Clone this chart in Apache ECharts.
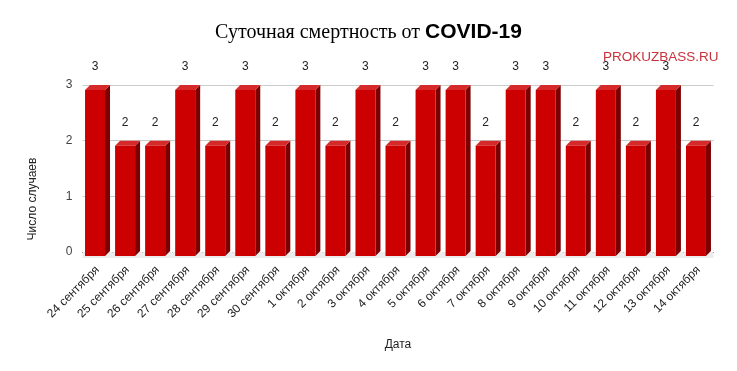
<!DOCTYPE html>
<html><head><meta charset="utf-8">
<script src="https://cdn.jsdelivr.net/npm/echarts@6/dist/echarts.min.js"></script>
<style>html,body{margin:0;padding:0;background:#fff}#c{width:737px;height:371px}</style>
</head><body><div id="c"></div>
<script>
const categories = ["24 сентября","25 сентября","26 сентября","27 сентября","28 сентября","29 сентября","30 сентября","1 октября","2 октября","3 октября","4 октября","5 октября","6 октября","7 октября","8 октября","9 октября","10 октября","11 октября","12 октября","13 октября","14 октября"];
const deaths = [3,2,2,3,2,3,2,3,2,3,2,3,3,2,3,3,2,3,2,3,2];
const yTicks = [0,1,2,3];

const chart = echarts.init(document.getElementById('c'), null, {renderer:'canvas'});

function renderItem(params, api){
  const i = api.value(0), v = api.value(1);
  const top = api.coord([i, v]);
  const base = api.coord([i, 0]);
  const bw = api.size([1,0])[0];
  const fw = bw*0.665, dx = 5, dy = 5;
  const xl = top[0] - (fw+dx)/2, xr = xl + fw;
  const yt = top[1] + dy, yb = base[1] + dy - 1;
  return {type:'group', children:[
    {type:'rect', shape:{x:top[0]-bw/2, y:base[1], width:bw, height:6}, style:{fill:'#ececec'}, z2:0},
    {type:'polygon', shape:{points:[[xr,yt],[xr+dx,yt-dy],[xr+dx,yb-dy],[xr,yb]]}, style:{fill:'#7d0000'}, z2:1},
    {type:'polygon', shape:{points:[[xl,yt],[xr,yt],[xr+dx,yt-dy],[xl+dx,yt-dy]]}, style:{fill:'#d62a2a'}, z2:1},
    {type:'rect', shape:{x:xl, y:yt, width:fw, height:yb-yt}, style:{fill:'#cc0000'}, z2:2},
    {type:'text', x:xl+fw/2, y:top[1]-18, style:{text:String(v), fill:'#222', font:'12px Arial, "Liberation Sans", sans-serif', align:'center', verticalAlign:'middle'}, z2:3}
  ]};
}

chart.setOption({
  animation:false,
  backgroundColor:'#fff',
  title:{
    left:'center', top:17,
    text:'{a|Суточная смертность от }{b|COVID-19}',
    textStyle:{fontWeight:'normal', rich:{
      a:{fontFamily:'"Liberation Serif","Times New Roman",serif', fontSize:20, fontWeight:'normal', color:'#000'},
      b:{fontFamily:'"Liberation Sans",Arial,sans-serif', fontSize:21, fontWeight:'bold', color:'#000'}
    }}
  },
  grid:{left:82.5, right:23.5, top:85, bottom:119},
  xAxis:{
    type:'category', data:categories, boundaryGap:true,
    axisTick:{show:false},
    axisLine:{show:true, lineStyle:{color:'#333', width:1}},
    axisLabel:{rotate:45, fontSize:12, color:'#222', margin:16, fontFamily:'"Liberation Sans",Arial,sans-serif'}
  },
  yAxis:{
    type:'value', min:yTicks[0], max:yTicks[yTicks.length-1], interval:1,
    axisLine:{show:false}, axisTick:{show:false},
    axisLabel:{fontSize:12, color:'#444', margin:10, fontFamily:'"Liberation Sans",Arial,sans-serif'},
    splitLine:{lineStyle:{color:'#cccccc'}}
  },
  graphic:[
    {type:'text', left:603, top:50, style:{text:'PROKUZBASS.RU', fill:'#c8323c', font:'13.5px "Liberation Sans", Arial, sans-serif'}, z:10},
    {type:'text', x:33, y:199, rotation:Math.PI/2, style:{text:'Число случаев', fill:'#222', font:'12px "Liberation Sans", Arial, sans-serif', align:'center', verticalAlign:'middle'}},
    {type:'text', x:398, y:345, style:{text:'Дата', fill:'#222', font:'12px "Liberation Sans", Arial, sans-serif', align:'center', verticalAlign:'middle'}}
  ],
  series:[{
    type:'custom', renderItem:renderItem,
    data: deaths.map((d,i)=>[i,d]),
    encode:{x:0, y:1}, clip:false
  }]
});
</script></body></html>
